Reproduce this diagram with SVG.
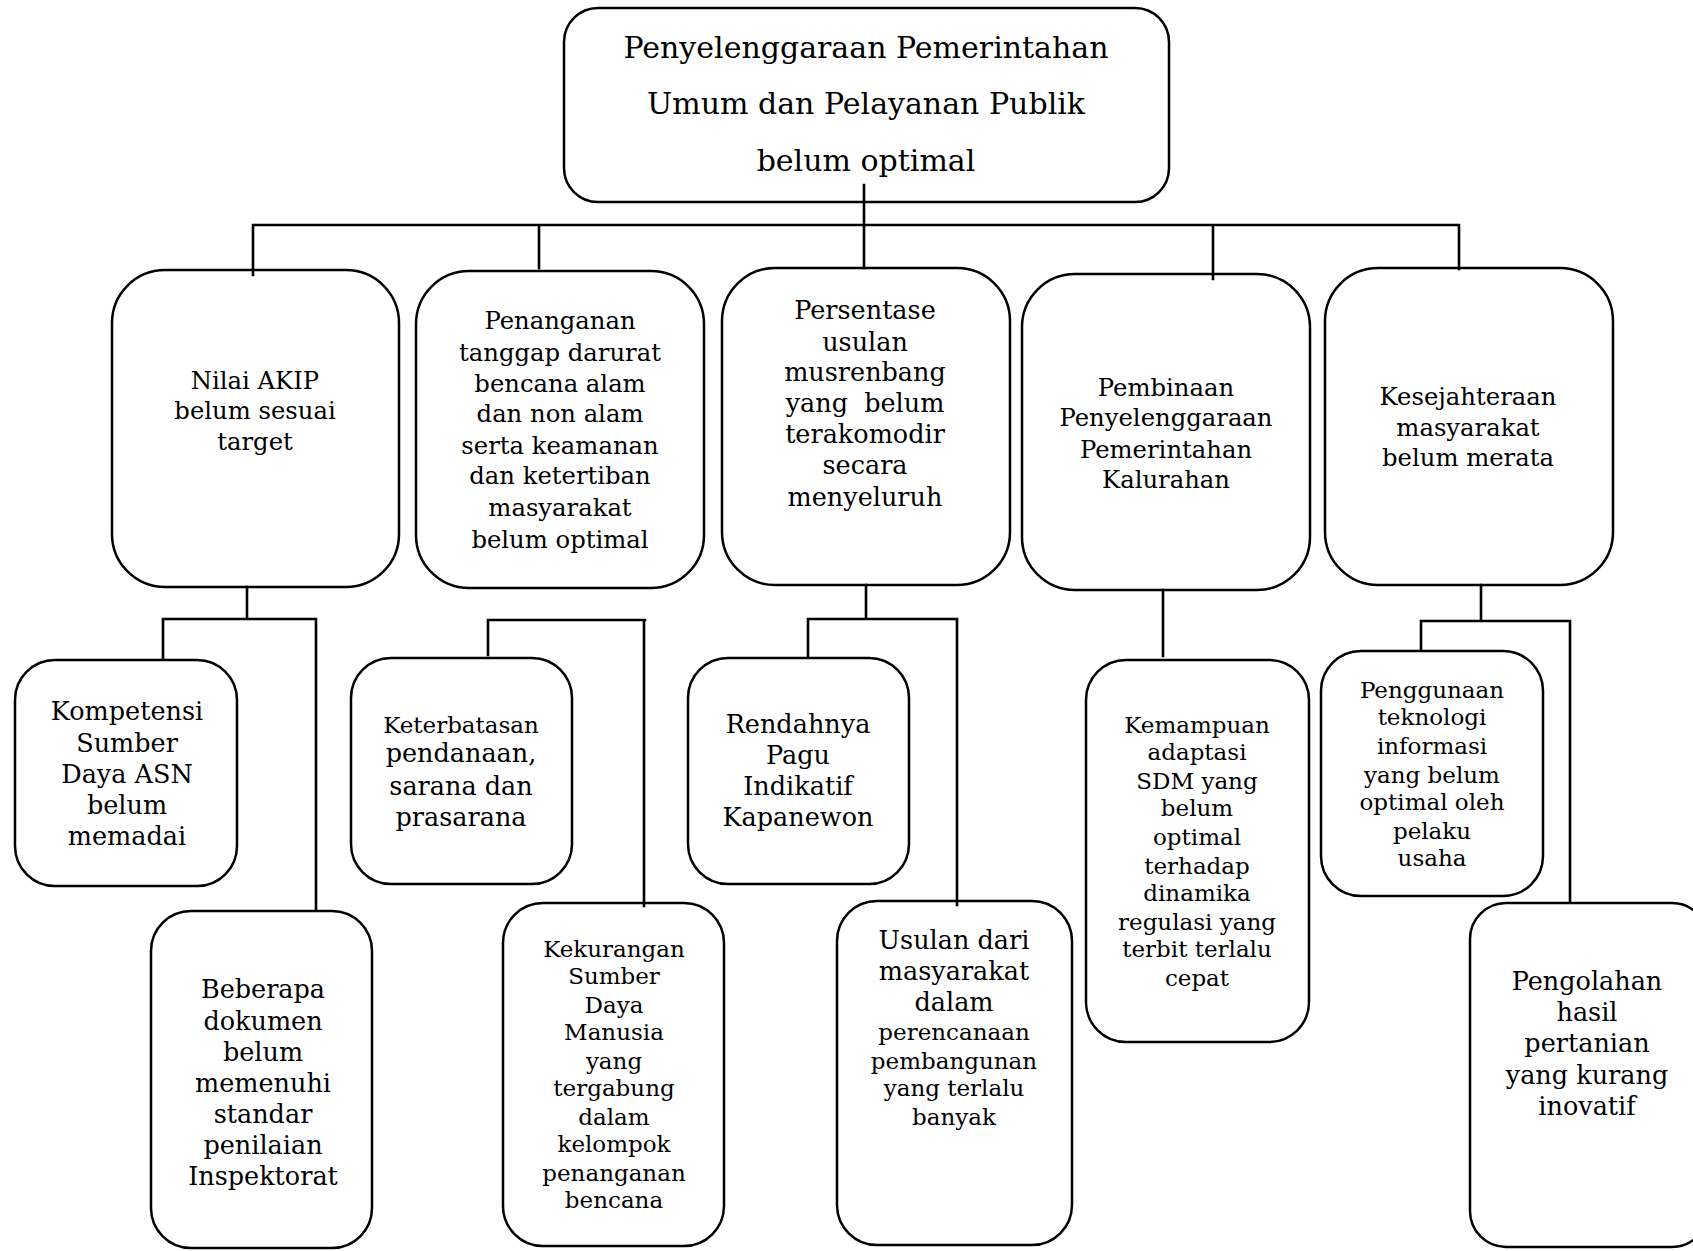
<svg xmlns="http://www.w3.org/2000/svg" width="1693" height="1251" viewBox="0 0 1693 1251">
<style>
.box{fill:#fff;stroke:#000;stroke-width:2.5}
.ln{fill:none;stroke:#000;stroke-width:2.6;stroke-linecap:square}
text{font-family:"DejaVu Serif","Liberation Serif",serif;fill:#000;text-anchor:middle}
.t0{font-size:30px}
.a{font-size:24.3px}
.b{font-size:25.5px}
.c{font-size:23px}
</style>
<rect width="1693" height="1251" fill="#fff"/>
<g id="top">
<rect class="box" x="564" y="8" width="605" height="194" rx="34"/>
<text class="t0" x="866" y="58">Penyelenggaraan Pemerintahan</text>
<text class="t0" x="866" y="114">Umum dan Pelayanan Publik</text>
<text class="t0" x="866" y="171">belum optimal</text>
</g>
<g id="n1">
<rect class="box" x="112" y="270" width="287" height="317" rx="53"/>
<text class="a" x="255" y="389">Nilai AKIP</text>
<text class="a" x="255" y="419">belum sesuai</text>
<text class="a" x="255" y="450">target</text>
</g>
<g id="n2">
<rect class="box" x="416" y="271" width="288" height="317" rx="53"/>
<text class="a" x="560" y="329">Penanganan</text>
<text class="a" x="560" y="361">tanggap darurat</text>
<text class="a" x="560" y="392">bencana alam</text>
<text class="a" x="560" y="422">dan non alam</text>
<text class="a" x="560" y="454">serta keamanan</text>
<text class="a" x="560" y="484">dan ketertiban</text>
<text class="a" x="560" y="516">masyarakat</text>
<text class="a" x="560" y="548">belum optimal</text>
</g>
<g id="n3">
<rect class="box" x="722" y="268" width="288" height="317" rx="53"/>
<text class="b" x="865" y="319">Persentase</text>
<text class="b" x="865" y="351">usulan</text>
<text class="b" x="865" y="381">musrenbang</text>
<text class="b" x="865" y="412" xml:space="preserve">yang  belum</text>
<text class="b" x="865" y="443">terakomodir</text>
<text class="b" x="865" y="474">secara</text>
<text class="b" x="865" y="506">menyeluruh</text>
</g>
<g id="n4">
<rect class="box" x="1022" y="274" width="288" height="316" rx="53"/>
<text class="a" x="1166" y="396">Pembinaan</text>
<text class="a" x="1166" y="426">Penyelenggaraan</text>
<text class="a" x="1166" y="458">Pemerintahan</text>
<text class="a" x="1166" y="488">Kalurahan</text>
</g>
<g id="n5">
<rect class="box" x="1325" y="268" width="288" height="317" rx="53"/>
<text class="a" x="1468" y="405">Kesejahteraan</text>
<text class="a" x="1468" y="436">masyarakat</text>
<text class="a" x="1468" y="466">belum merata</text>
</g>
<g id="n1a">
<rect class="box" x="15" y="660" width="222" height="226" rx="40"/>
<text class="b" x="127" y="720">Kompetensi</text>
<text class="b" x="127" y="752">Sumber</text>
<text class="b" x="127" y="783">Daya ASN</text>
<text class="b" x="127" y="814">belum</text>
<text class="b" x="127" y="845">memadai</text>
</g>
<g id="n1b">
<rect class="box" x="151" y="911" width="221" height="337" rx="40"/>
<text class="b" x="263" y="998">Beberapa</text>
<text class="b" x="263" y="1030">dokumen</text>
<text class="b" x="263" y="1061">belum</text>
<text class="b" x="263" y="1092">memenuhi</text>
<text class="b" x="263" y="1123">standar</text>
<text class="b" x="263" y="1154">penilaian</text>
<text class="b" x="263" y="1185">Inspektorat</text>
</g>
<g id="n2a">
<rect class="box" x="351" y="658" width="221" height="226" rx="40"/>
<text class="c" x="461" y="733">Keterbatasan</text>
<text class="b" x="461" y="762">pendanaan,</text>
<text class="b" x="461" y="795">sarana dan</text>
<text class="b" x="461" y="826">prasarana</text>
</g>
<g id="n2b">
<rect class="box" x="503" y="903" width="221" height="343" rx="40"/>
<text class="c" x="614" y="957">Kekurangan</text>
<text class="c" x="614" y="984">Sumber</text>
<text class="c" x="614" y="1013">Daya</text>
<text class="c" x="614" y="1040">Manusia</text>
<text class="c" x="614" y="1069">yang</text>
<text class="c" x="614" y="1096">tergabung</text>
<text class="c" x="614" y="1125">dalam</text>
<text class="c" x="614" y="1152">kelompok</text>
<text class="c" x="614" y="1181">penanganan</text>
<text class="c" x="614" y="1208">bencana</text>
</g>
<g id="n3a">
<rect class="box" x="688" y="658" width="221" height="226" rx="40"/>
<text class="b" x="798" y="733">Rendahnya</text>
<text class="b" x="798" y="764">Pagu</text>
<text class="b" x="798" y="795">Indikatif</text>
<text class="b" x="798" y="826">Kapanewon</text>
</g>
<g id="n3b">
<rect class="box" x="837" y="901" width="235" height="344" rx="40"/>
<text class="b" x="954" y="949">Usulan dari</text>
<text class="b" x="954" y="980">masyarakat</text>
<text class="b" x="954" y="1011">dalam</text>
<text class="c" x="954" y="1040">perencanaan</text>
<text class="c" x="954" y="1069">pembangunan</text>
<text class="c" x="954" y="1096">yang terlalu</text>
<text class="c" x="954" y="1125">banyak</text>
</g>
<g id="n4a">
<rect class="box" x="1086" y="660" width="223" height="382" rx="40"/>
<text class="c" x="1197" y="733">Kemampuan</text>
<text class="c" x="1197" y="760">adaptasi</text>
<text class="c" x="1197" y="789">SDM yang</text>
<text class="c" x="1197" y="816">belum</text>
<text class="c" x="1197" y="845">optimal</text>
<text class="c" x="1197" y="874">terhadap</text>
<text class="c" x="1197" y="901">dinamika</text>
<text class="c" x="1197" y="930">regulasi yang</text>
<text class="c" x="1197" y="957">terbit terlalu</text>
<text class="c" x="1197" y="986">cepat</text>
</g>
<g id="n5a">
<rect class="box" x="1321" y="651" width="222" height="245" rx="40"/>
<text class="c" x="1432" y="698">Penggunaan</text>
<text class="c" x="1432" y="725">teknologi</text>
<text class="c" x="1432" y="754">informasi</text>
<text class="c" x="1432" y="783">yang belum</text>
<text class="c" x="1432" y="810">optimal oleh</text>
<text class="c" x="1432" y="839">pelaku</text>
<text class="c" x="1432" y="866">usaha</text>
</g>
<g id="n5b">
<rect class="box" x="1470" y="903" width="238" height="344" rx="36"/>
<text class="b" x="1587" y="990">Pengolahan</text>
<text class="b" x="1587" y="1021">hasil</text>
<text class="b" x="1587" y="1052">pertanian</text>
<text class="b" x="1587" y="1084">yang kurang</text>
<text class="b" x="1587" y="1115">inovatif</text>
</g>
<g id="connectors">
<path class="ln" d="M864 185V268M253 225H1459M253 225V275M539 225V268M1213 225V279M1459 225V269"/>
<path class="ln" d="M247 587V619M163 619H316M163 619V658M316 619V910"/>
<path class="ln" d="M488 620H645M488 620V655M644 620V906"/>
<path class="ln" d="M866 585V619M808 619H957M808 619V656M957 619V905"/>
<path class="ln" d="M1163 590V656"/>
<path class="ln" d="M1481 585V621M1421 621H1570M1421 621V650M1570 621V902"/>
</g>
</svg>
